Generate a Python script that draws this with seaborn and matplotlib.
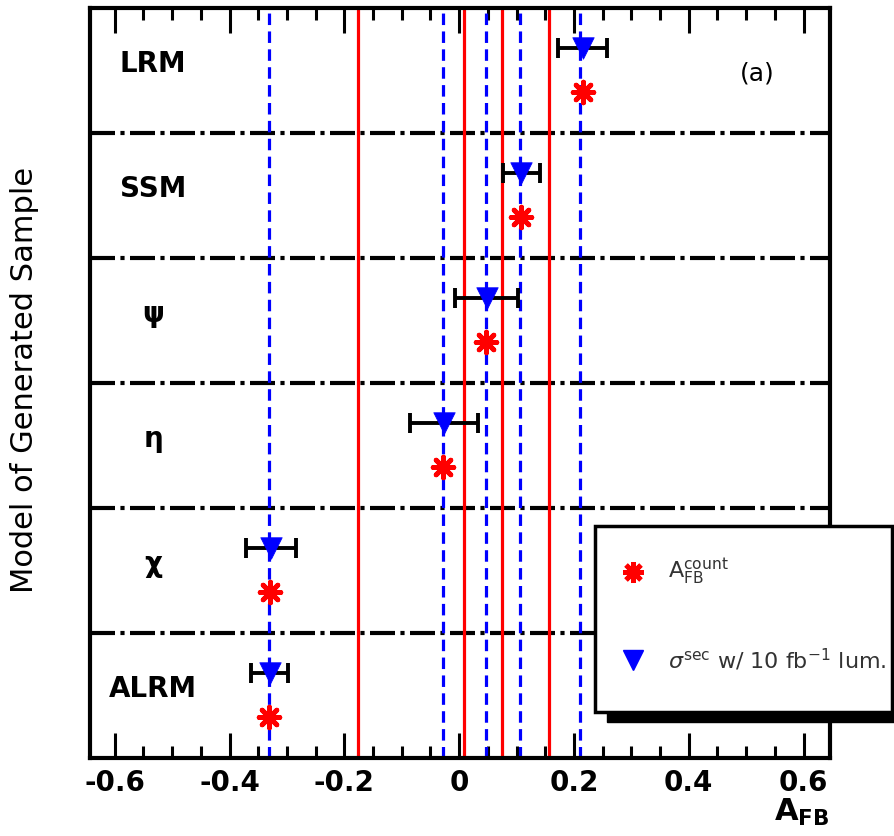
import numpy as np
import pandas as pd
import matplotlib
matplotlib.use("Agg")
import matplotlib.pyplot as plt
import seaborn as sns
from matplotlib.patches import Rectangle
from matplotlib.lines import Line2D
from matplotlib.ticker import MultipleLocator, FuncFormatter

# ---------------- data ----------------
models = ["LRM", "SSM", "ψ", "η", "χ", "ALRM"]
afb_fit = [0.215, 0.108, 0.048, -0.027, -0.328, -0.330]
afb_fit_err = [0.043, 0.032, 0.055, 0.059, 0.043, 0.032]
afb_count = [0.215, 0.108, 0.047, -0.028, -0.330, -0.331]
blue_lines = [0.211, 0.106, 0.046, -0.028, -0.332]
red_lines = [-0.176, 0.009, 0.075, 0.157]
xticks = [-0.6, -0.4, -0.2, 0.0, 0.2, 0.4, 0.6]

sns.set_style("ticks")
plt.rcParams["font.family"] = ["DejaVu Sans"]
plt.rcParams["text.color"] = "black"
plt.rcParams["axes.labelcolor"] = "black"
plt.rcParams["xtick.color"] = "black"
plt.rcParams["ytick.color"] = "black"

rows = np.arange(len(models))
df_fit = pd.DataFrame({"model": models, "afb": afb_fit, "err": afb_fit_err, "y": rows + 0.32})
df_cnt = pd.DataFrame({"model": models, "afb": afb_count, "y": rows + 0.67})

fig = plt.figure(figsize=(8.94, 8.36), dpi=100)
ax = fig.add_axes([90 / 894, 1 - 758 / 836, 740 / 894, 750 / 836])

# horizontal separators
for b in range(1, len(models)):
    ax.axhline(b, color="black", lw=3, ls=(0, (6, 1.3, 1, 1.3)), zorder=1)

# vertical reference lines
for v in red_lines:
    ax.axvline(v, color="red", lw=2.3, zorder=2)
for v in blue_lines:
    ax.axvline(v, color="blue", lw=2.3, ls=(0, (3.6, 2.0)), zorder=2)

# error bars
ax.errorbar(df_fit["afb"], df_fit["y"], xerr=df_fit["err"], fmt="none",
            ecolor="black", elinewidth=2.8, capsize=7, capthick=2.8, zorder=4)

sns.scatterplot(data=df_fit, x="afb", y="y", marker="v", color="blue", s=240,
                edgecolor="blue", linewidth=0.5, ax=ax, zorder=5, legend=False)
sns.scatterplot(data=df_cnt, x="afb", y="y", marker=(8, 2, 0), color="red", s=220,
                linewidth=3.5, ax=ax, zorder=5, legend=False)

# model labels
for i, m in enumerate(models):
    ax.text(-0.533, i + 0.45, m, ha="center", va="center", fontsize=20,
            fontweight="bold", color="black", zorder=6)
ax.text(0.519, 0.52, "(a)", ha="center", va="center", fontsize=18, color="black", zorder=6)

ax.set_xlim(-0.643, 0.646)
ax.set_ylim(len(models), 0)
ax.set_yticks([])
ax.set_xlabel("")
ax.set_ylabel("")
ax.xaxis.set_major_locator(MultipleLocator(0.2))
ax.xaxis.set_minor_locator(MultipleLocator(0.05))
ax.xaxis.set_major_formatter(FuncFormatter(lambda v, p: "0" if abs(v) < 1e-9 else f"{v:.1f}"))
ax.tick_params(axis="x", which="both", direction="in", top=True, bottom=True,
               width=2.2, labelsize=20, pad=8, colors="black")
ax.tick_params(axis="x", which="major", length=18)
ax.tick_params(axis="x", which="minor", length=8.5)
ax.tick_params(axis="y", left=False, right=False)
for lab in ax.get_xticklabels():
    lab.set_fontweight("bold")
for s in ax.spines.values():
    s.set_linewidth(3)
    s.set_visible(True)
    s.set_color("black")

# axis titles
fig.text(25 / 894, 1 - 380 / 836, "Model of Generated Sample", rotation=90,
         ha="center", va="center", fontsize=22, color="black")
fig.text(802 / 894, 1 - 812 / 836, r"$\mathbf{A}_{\mathbf{FB}}$", ha="center",
         va="center", fontsize=22, color="black")

# legend box with shadow
fig.add_artist(Rectangle((607 / 894, 1 - 722 / 836), 297 / 894, 186 / 836,
                         transform=fig.transFigure, facecolor="black",
                         edgecolor="black", zorder=20))
fig.add_artist(Rectangle((595 / 894, 1 - 712 / 836), 297 / 894, 186 / 836,
                         transform=fig.transFigure, facecolor="white",
                         edgecolor="black", lw=2.5, zorder=21))
fig.add_artist(Line2D([633 / 894], [1 - 572 / 836], marker=(8, 2, 0), color="red",
                      ms=15, mew=3.5, transform=fig.transFigure, zorder=22))
fig.add_artist(Line2D([633 / 894], [1 - 660 / 836], marker="v", color="blue",
                      ms=15, transform=fig.transFigure, zorder=22))
fig.text(668 / 894, 1 - 572 / 836, r"$\mathrm{A}_{\mathrm{FB}}^{\mathrm{count}}$",
         ha="left", va="center", fontsize=16, color="#333333", zorder=23)
fig.text(668 / 894, 1 - 660 / 836, r"$\sigma^{\mathrm{sec}}$ w/ 10 fb$^{-1}$ lum.",
         ha="left", va="center", fontsize=16, color="#333333", zorder=23)

fig.savefig("out.png", dpi=100)
